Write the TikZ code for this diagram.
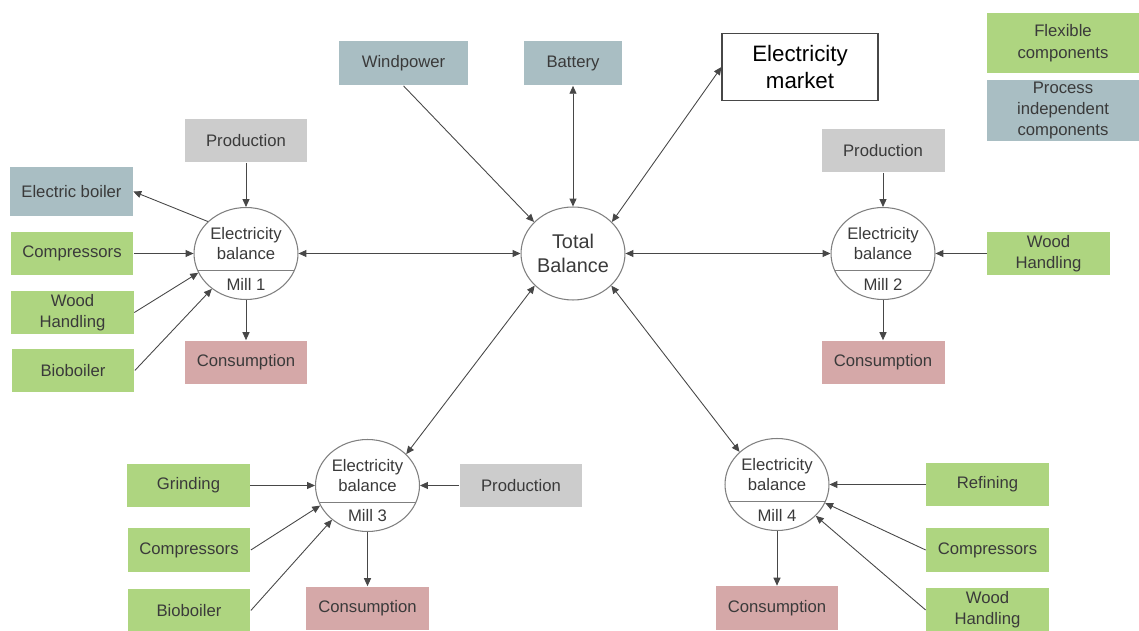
\documentclass[tikz,border=0pt]{standalone}
\usepackage{fontspec}
\setmainfont{Liberation Sans}
\usetikzlibrary{shapes.geometric,arrows.meta,calc,positioning}

\definecolor{flexgreen}{HTML}{AED580}
\definecolor{indepblue}{HTML}{A9BEC3}
\definecolor{prodgray}{HTML}{CCCCCC}
\definecolor{conspink}{HTML}{D5A8A8}
\definecolor{linegray}{HTML}{474747}
\definecolor{textgray}{HTML}{3A3A3A}
\definecolor{ringgray}{HTML}{7F7F7F}

% one mill: ring, split line, texts
\newcommand{\millnode}[4]{%
  \node[balance] (#1) at (#2,#3) {};
  \draw[ringgray, line width=0.6pt] ($(#1)+(-48,17)$) -- ($(#1)+(48,17)$);
  \node[milltext] (#1t) at ($(#1)+(0,-10)$) {Electricity\\balance};
  \node[milltext] (#1m) at ($(#1)+(0,30.5)$) {#4};
}

\begin{document}
\begin{tikzpicture}[x=0.02cm,y=-0.02cm,
    >={Triangle[length=4.5pt,width=4pt]},
    box/.style={rectangle, minimum width=2.46cm, minimum height=0.88cm,
      inner sep=1pt, align=center, text=textgray,
      font=\fontsize{9.5}{12}\selectfont},
    flex/.style={box, fill=flexgreen},
    indep/.style={box, fill=indepblue},
    prod/.style={box, fill=prodgray},
    cons/.style={box, fill=conspink},
    balance/.style={ellipse, draw=ringgray, line width=0.6pt,
      minimum width=2.08cm, minimum height=1.84cm, inner sep=0pt},
    milltext/.style={align=center, text=textgray, inner sep=0pt,
      font=\fontsize{9.5}{11.8}\selectfont},
    flow/.style={draw=linegray, line width=0.5pt, ->},
    both/.style={draw=linegray, line width=0.5pt, <->}
  ]
  \useasboundingbox (0,0) rectangle (1139,631);

  % legend
  \node[flex, minimum width=3.04cm, minimum height=1.22cm,
    font=\fontsize{9.5}{12.5}\selectfont] (legflex) at (1063,43)
    {Flexible\\components};
  \node[indep, minimum width=3.04cm, minimum height=1.22cm,
    font=\fontsize{9.5}{12}\selectfont] (legind) at (1063,110.5)
    {Process\\independent\\components};

  % centre
  \node[ellipse, draw=ringgray, line width=0.6pt, minimum width=2.08cm,
    minimum height=1.86cm, inner sep=0pt, align=center, text=textgray,
    font=\fontsize{11.3}{13.6}\selectfont] (tot) at (573,253.5)
    {Total\\Balance};
  \node[indep, minimum width=2.58cm] (wind) at (403.5,63.5) {Windpower};
  \node[indep, minimum width=1.98cm] (bat) at (573,63.5) {Battery};
  \node[box, draw=linegray, line width=0.6pt, fill=white, text=black,
    minimum width=3.12cm, minimum height=1.34cm,
    font=\fontsize{12.7}{15.3}\selectfont] (mkt) at (800,67)
    {Electricity\\market};

  % mills
  \millnode{mone}{246}{253.5}{Mill 1}
  \millnode{mtwo}{883}{253.5}{Mill 2}
  \millnode{mthree}{367.5}{485.5}{Mill 3}
  \millnode{mfour}{777}{484.5}{Mill 4}

  % mill 1
  \node[prod] (prodone) at (246,140.5) {Production};
  \node[indep, minimum height=1cm] (eboil) at (71.5,191.5) {Electric boiler};
  \node[flex] (compone) at (72,253.5) {Compressors};
  \node[flex] (woodone) at (72.5,312.5) {Wood\\Handling};
  \node[flex] (bioone) at (73,370.5) {Bioboiler};
  \node[cons] (consone) at (246,362.5) {Consumption};

  % mill 2
  \node[prod] (prodtwo) at (883,150.5) {Production};
  \node[flex] (woodtwo) at (1048.5,253.5) {Wood\\Handling};
  \node[cons] (constwo) at (883,362.5) {Consumption};

  % mill 3
  \node[flex] (grindthree) at (188.5,485.5) {Grinding};
  \node[flex] (compthree) at (189,550) {Compressors};
  \node[flex] (biothree) at (189,610.5) {Bioboiler};
  \node[prod] (prodthree) at (521,485.5) {Production};
  \node[cons] (consthree) at (367.5,608.5) {Consumption};

  % mill 4
  \node[flex] (reffour) at (987.5,484.5) {Refining};
  \node[flex] (compfour) at (987.5,550) {Compressors};
  \node[flex] (woodfour) at (987.5,610) {Wood\\Handling};
  \node[cons] (consfour) at (777,608) {Consumption};

  % connectors
  \draw[flow] (prodone) -- (mone);
  \draw[flow] (mone.140) -- (eboil.east);
  \draw[flow] (compone.east) -- (mone.west);
  \draw[flow] (woodone.east) -- (mone.202);
  \draw[flow] (bioone.east) -- (mone.226);
  \draw[flow] (mone) -- (consone);
  \draw[both] (mone.east) -- (tot.west);

  \draw[flow] (wind.south) -- (tot.141);
  \draw[both] (bat) -- (tot);
  \draw[both] (mkt.west) -- (tot.39);
  \draw[both] (tot.east) -- (mtwo.west);
  \draw[both] (tot.220) -- (mthree.39);
  \draw[both] (tot.320) -- (mfour.139);

  \draw[flow] (prodtwo) -- (mtwo);
  \draw[flow] (woodtwo.west) -- (mtwo.east);
  \draw[flow] (mtwo) -- (constwo);

  \draw[flow] (grindthree.east) -- (mthree.west);
  \draw[flow] (compthree.east) -- (mthree.203);
  \draw[flow] (biothree.east) -- (mthree.224);
  \draw[flow] (prodthree.west) -- (mthree.east);
  \draw[flow] (mthree) -- (consthree);

  \draw[flow] (reffour.west) -- (mfour.east);
  \draw[flow] (compfour.west) -- (mfour.339);
  \draw[flow] (woodfour.west) -- (mfour.321);
  \draw[flow] (mfour) -- (consfour);
\end{tikzpicture}
\end{document}
